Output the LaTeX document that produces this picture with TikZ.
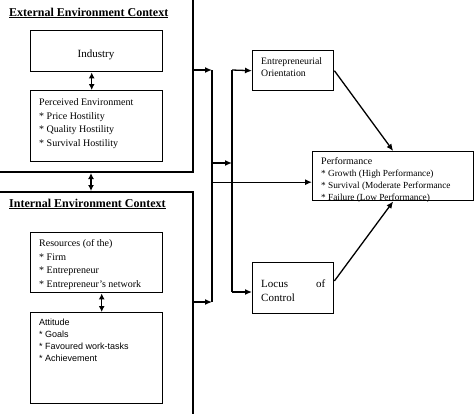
\documentclass[tikz,border=0pt]{standalone}
\usepackage{fontspec}
\setmainfont{Liberation Serif}
\newfontfamily\arialf{Liberation Sans}
\usetikzlibrary{arrows.meta}
\begin{document}
\begin{tikzpicture}[x=1pt,y=-1pt,
  outerbox/.style={draw, line width=2pt, inner sep=0pt, anchor=north west},
  innerbox/.style={draw, line width=1.4pt, inner sep=0pt, anchor=north west},
  conn/.style={line width=1.3pt, -{Latex[length=7pt,width=6pt]}},
  dbl/.style={line width=1.3pt, {Latex[length=6pt,width=6pt]}-{Latex[length=6pt,width=6pt]}},
  plainline/.style={line width=1.3pt},
  lbl/.style={inner sep=0pt, anchor=north west, align=left, font=\fontsize{10}{13.6}\selectfont},
  ttl/.style={inner sep=0pt, anchor=base west, font=\fontsize{12}{14}\selectfont\bfseries}
]
\useasboundingbox (0,0) rectangle (474,413);
\clip (0,0) rectangle (474,413);

% outer context boxes
\node[outerbox, minimum width=194pt, minimum height=173pt] (ext) at (-2,-2) {};
\node[outerbox, minimum width=194pt, minimum height=226pt] (int) at (-2,191) {};
\node[ttl] (extt) at (9,16) {\underline{External Environment Context}};
\node[ttl] (intt) at (9,207) {\underline{Internal Environment Context}};

% inner boxes
\node[innerbox, minimum width=132pt, minimum height=41pt] (ind) at (30,30) {};
\node[innerbox, minimum width=132pt, minimum height=71pt] (perc) at (30,90) {};
\node[innerbox, minimum width=132pt, minimum height=60pt] (res) at (30,232) {};
\node[innerbox, minimum width=132pt, minimum height=91pt] (att) at (30,312) {};

\node[inner sep=0pt, font=\fontsize{11}{13}\selectfont] (indt) at (96,55) {Industry};
\node[lbl] (perct) at (39,98.5) {Perceived Environment\\* Price Hostility\\* Quality Hostility\\* Survival Hostility};
\node[lbl] (rest) at (39,239.5) {Resources (of the)\\* Firm\\* Entrepreneur\\* Entrepreneur's network};
\node[lbl, font=\arialf\fontsize{9}{12}\selectfont] (attt) at (39,318.5) {Attitude\\* Goals\\* Favoured work-tasks\\* Achievement};

\draw[dbl] ([xshift=-5pt]ind.south) -- ([xshift=-5pt]perc.north);
\draw[dbl] ([xshift=-5pt]ext.south) -- ([xshift=-5pt]int.north);
\draw[dbl] ([xshift=5pt]res.south) -- ([xshift=5pt]att.north);

% right side boxes
\node[innerbox, minimum width=81pt, minimum height=40pt] (eo) at (252,50) {};
\node[innerbox, minimum width=81pt, minimum height=50.5pt] (loc) at (252,262) {};
\node[innerbox, minimum width=161pt, minimum height=49pt] (perf) at (312,151) {};

\node[lbl, font=\fontsize{9.8}{12.5}\selectfont] (eot) at (261,57) {Entrepreneurial\\Orientation};
\node[lbl, font=\fontsize{11}{13.5}\selectfont] (loct) at (261,280) {\makebox[64pt][s]{Locus\hfill of}\\Control};
\begin{scope}
  \clip (perf.north west) rectangle (perf.south east);
  \node[lbl, font=\fontsize{9.3}{12.2}\selectfont] (perft) at (321,157) {\fontsize{10}{12.2}\selectfont Performance\\* Growth (High Performance)\\* Survival (Moderate Performance\\* Failure (Low Performance)};
\end{scope}

% connector network
\coordinate (v1top) at (212,70);
\coordinate (v1bot) at (212,302);
\coordinate (v1mid) at (212,163);
\coordinate (v2top) at (232,70);
\coordinate (v2mid) at (232,163);
\coordinate (v2bot) at (232,292);
\coordinate (pin) at ([yshift=-6pt]perf.west);
\coordinate (locout) at ([yshift=7pt]loc.east);

\draw[conn] (ext.east |- v1top) -- (v1top);
\draw[conn] (int.east |- v1bot) -- (v1bot);
\draw[plainline] (v1top) -- (v1bot);
\draw[conn] (v1mid) -- (v2mid);
\draw[conn] (v1top |- pin) -- (pin);
\draw[plainline] (v2top) -- (v2bot);
\draw[conn] (v2top) -- (eo.west);
\draw[conn] (v2bot) -- (loc.west |- v2bot);
\draw[conn] (eo.east) -- (perf.north);
\draw[conn] (locout) -- (perf.south);
\end{tikzpicture}
\end{document}
